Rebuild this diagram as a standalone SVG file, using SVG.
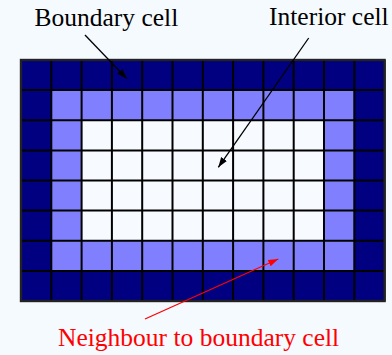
<svg xmlns="http://www.w3.org/2000/svg" width="392" height="355" viewBox="0 0 392 355">
<defs>
<style>
.lbl{font-family:"Liberation Serif","Times New Roman",serif;font-size:25.5px}
.grid{fill:none;stroke:#000;stroke-width:2}
.lead{stroke-width:1.3;fill:none}
</style>
<marker id="ahk" viewBox="0 0 10 10" refX="10" refY="5" markerWidth="10" markerHeight="10" markerUnits="userSpaceOnUse" orient="auto"><path d="M0,1.5 L10,5 L0,8.5 Z" fill="#000"/></marker>
<marker id="ahr" viewBox="0 0 10 10" refX="10" refY="5" markerWidth="10" markerHeight="10" markerUnits="userSpaceOnUse" orient="auto"><path d="M0,1.5 L10,5 L0,8.5 Z" fill="#f00"/></marker>
</defs>
<rect width="392" height="355" fill="#F5FAFF"/>
<g id="grid">
<rect x="21" y="60" width="363.6" height="241" fill="#000080"/>
<rect x="51.3" y="90.1" width="303" height="180.8" fill="#8080FF"/>
<rect x="81.6" y="120.25" width="242.4" height="120.5" fill="#F7FBFF"/>
<path class="grid" d="M21,60V301M51.3,60V301M81.6,60V301M111.9,60V301M142.2,60V301M172.5,60V301M202.8,60V301M233.1,60V301M263.4,60V301M293.7,60V301M324,60V301M354.3,60V301M384.6,60V301M21,60H384.6M21,90.1H384.6M21,120.25H384.6M21,150.4H384.6M21,180.5H384.6M21,210.6H384.6M21,240.75H384.6M21,270.9H384.6M21,301H384.6"/>
<rect x="21" y="60" width="363.6" height="241" fill="none" stroke="#222" stroke-width="2.4"/>
</g>
<g id="label-boundary"><text class="lbl" x="34.5" y="26" fill="#000">Boundary cell</text></g>
<g id="label-interior"><text class="lbl" x="269" y="25" fill="#000">Interior cell</text></g>
<g id="label-neighbour"><text class="lbl" x="58" y="346" fill="#f00">Neighbour to boundary cell</text></g>
<g id="connectors">
<line class="lead" x1="85" y1="35" x2="126.7" y2="78.5" stroke="#000" marker-end="url(#ahk)"/>
<line class="lead" x1="308.7" y1="38" x2="218.3" y2="167.3" stroke="#000" marker-end="url(#ahk)"/>
<line class="lead" x1="145" y1="319" x2="278.3" y2="259" stroke="#f00" marker-end="url(#ahr)"/>
</g>
</svg>
